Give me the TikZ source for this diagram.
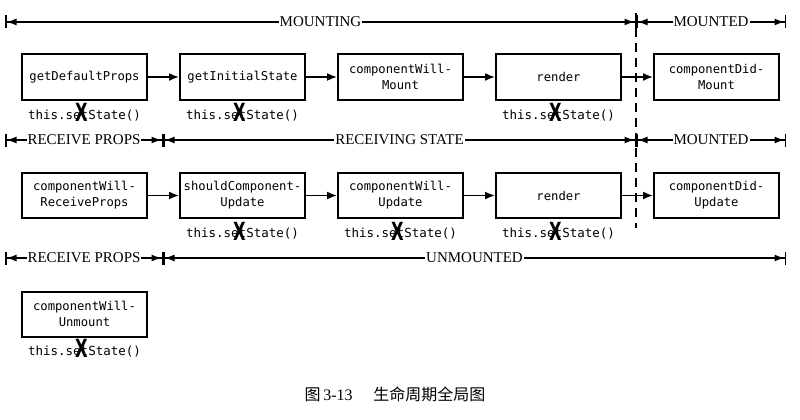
\documentclass[tikz,border=0pt]{standalone}
\usepackage{fontspec}
\setmainfont{Liberation Serif}
\setmonofont{DejaVu Sans Mono}
\newfontfamily\cjk{Noto Sans CJK SC}
\newfontfamily\crossfont{DejaVu Sans}
\usetikzlibrary{arrows.meta}
\usetikzlibrary{positioning}

\newcommand{\crossx}{\smash{\raisebox{-2.5pt}{\scalebox{0.65}[1]{\crossfont\bfseries\fontsize{25}{25}\selectfont X}}}}
\newcommand{\nosetstate}{this.se\makebox[0pt][l]{\hspace{-3pt}\makebox[0.602em][c]{\crossx}}tState()}

\begin{document}
\begin{tikzpicture}
[x=1pt, y=1pt,
block/.style   ={rectangle, draw, line width=2pt, minimum width=125pt, minimum height=45pt, align=center, inner sep=2pt, font=\ttfamily\fontsize{12.2}{16}\selectfont},
state/.style   ={inner sep=1pt, font=\ttfamily\fontsize{12.5}{15}\selectfont},
line/.style    ={draw, line width=1.6pt, -{Latex[length=10pt,width=8pt]}},
span/.style    ={draw, line width=1.5pt, {Bar[width=13pt]Latex[length=10pt,width=7pt]}-{Latex[length=10pt,width=7pt]Bar[width=13pt]}},
tag/.style     ={fill=white, inner sep=1pt, font=\fontsize{15}{15}\selectfont},
divider/.style ={draw, line width=1.8pt, dash pattern=on 9pt off 6pt},
node distance = 31pt]

\useasboundingbox (0,0) rectangle (800,-420);

% mounting
\node[block] (defaultprops) at (84.5,-77) {getDefaultProps};
\node[block, right=of defaultprops] (initialstate) {getInitialState};
\node[block, right=of initialstate] (willmount) {componentWill-\\Mount};
\node[block, right=of willmount] (render) {render};
\node[block, right=of render] (didmount) {componentDid-\\Mount};

\node[state, below=8pt of defaultprops] (defaultset) {\nosetstate};
\node[state, below=8pt of initialstate] (initialset) {\nosetstate};
\node[state, below=8pt of render] (renderset) {\nosetstate};

% updating
\node[block] (receiveprops) at (84.5,-195.5) {componentWill-\\ReceiveProps};
\node[block, right=of receiveprops] (shouldupdate) {shouldComponent-\\Update};
\node[block, right=of shouldupdate] (willupdate) {componentWill-\\Update};
\node[block, right=of willupdate] (rerender) {render};
\node[block, right=of rerender] (didupdate) {componentDid-\\Update};

\node[state, below=8pt of shouldupdate] (shouldset) {\nosetstate};
\node[state, below=8pt of willupdate] (willupdateset) {\nosetstate};
\node[state, below=8pt of rerender] (rerenderset) {\nosetstate};

% unmounting
\node[block] (willunmount) at (84.5,-314) {componentWill-\\Unmount};
\node[state, below=7pt of willunmount] (unmountset) {\nosetstate};

\node[font=\fontsize{16}{18}\selectfont] (caption) at (395,-394) {{\cjk 图}\,3-13\hspace{1.3em}{\cjk 生命周期全局图}};

% phase spans
\coordinate (mountl) at (5,-22);
\coordinate (mountm) at (636,-22);
\coordinate (mountr) at (786,-22);
\coordinate (recvl) at (5,-140);
\coordinate (recvm) at (163,-140);
\coordinate (recvd) at (636,-140);
\coordinate (recvr) at (786,-140);
\coordinate (unl) at (5,-258);
\coordinate (unm) at (163,-258);
\coordinate (unr) at (786,-258);
\coordinate (divtop) at (636,-13);
\coordinate (divbot) at (636,-228);

\path[span] (mountl) -- node[tag] {MOUNTING} (mountm);
\path[span] (mountm) -- node[tag] {MOUNTED} (mountr);
\path[span] (recvl) -- node[tag] {RECEIVE PROPS} (recvm);
\path[span] (recvm) -- node[tag] {RECEIVING STATE} (recvd);
\path[span] (recvd) -- node[tag] {MOUNTED} (recvr);
\path[span] (unl) -- node[tag] {RECEIVE PROPS} (unm);
\path[span] (unm) -- node[tag] {UNMOUNTED} (unr);

\path[divider] (divtop) -- (divbot);

\path[line] (defaultprops) -- (initialstate);
\path[line] (initialstate) -- (willmount);
\path[line] (willmount) -- (render);
\path[line] (render) -- (didmount);

\path[line] (receiveprops) -- (shouldupdate);
\path[line] (shouldupdate) -- (willupdate);
\path[line] (willupdate) -- (rerender);
\path[line] (rerender) -- (didupdate);
\end{tikzpicture}
\end{document}
